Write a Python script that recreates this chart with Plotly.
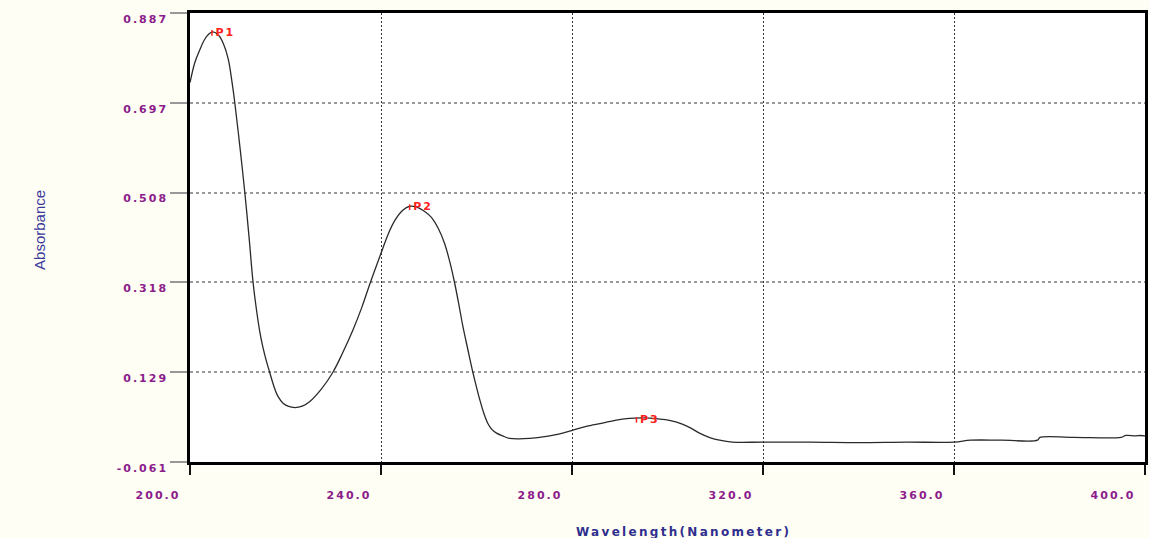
import plotly.graph_objects as go

wavelength = [200.0, 201.0, 202.0, 203.0, 204.0, 204.8, 206.0, 207.0, 208.0, 208.8,
              209.4, 210.5, 211.5, 212.4, 213.2, 213.9, 214.6, 215.3, 216.0, 216.7,
              217.5, 218.4, 219.5, 220.5, 222.0, 223.5, 225.1, 227.5, 229.9, 232.0,
              234.1, 236.0, 237.7, 240.2, 241.5, 242.9, 244.5, 246.0, 247.5, 249.0,
              250.6, 252.0, 253.3, 254.4, 255.4, 256.3, 257.1, 258.2, 259.2, 260.0,
              260.7, 261.5, 262.3, 263.2, 264.2, 265.5, 266.9, 269.0, 271.1, 273.2,
              277.2, 280.1, 283.0, 286.4, 289.0, 292.0, 295.0, 298.0, 300.4, 303.1,
              305.0, 306.7, 309.0, 310.9, 313.6, 320.0, 330.0, 340.0, 350.0, 360.0,
              363.5, 370.0, 377.5, 378.0, 385.0, 395.0, 396.0, 398.0, 399.0, 400.0]
absorbance = [0.740, 0.782, 0.808, 0.830, 0.843, 0.847, 0.840, 0.822, 0.790, 0.741,
              0.696, 0.600, 0.506, 0.410, 0.319, 0.262, 0.215, 0.180, 0.152, 0.128,
              0.101, 0.078, 0.063, 0.057, 0.054, 0.057, 0.067, 0.093, 0.128, 0.170,
              0.217, 0.266, 0.316, 0.385, 0.420, 0.449, 0.470, 0.479, 0.477, 0.469,
              0.455, 0.432, 0.401, 0.362, 0.318, 0.272, 0.228, 0.176, 0.130, 0.097,
              0.070, 0.043, 0.022, 0.008, 0.000, -0.006, -0.011, -0.012, -0.011, -0.009,
              -0.002, 0.006, 0.014, 0.021, 0.027, 0.031, 0.032, 0.030, 0.027, 0.019,
              0.010, 0.000, -0.010, -0.015, -0.019, -0.019, -0.019, -0.020, -0.019, -0.019,
              -0.015, -0.015, -0.015, -0.009, -0.009, -0.009, -0.005, -0.006, -0.005, -0.006]

peak_names = ["P1", "P2", "P3"]
peak_wavelength = [204.6, 246.0, 293.5]
peak_absorbance = [0.845, 0.477, 0.028]

x_ticks = [200.0, 240.0, 280.0, 320.0, 360.0, 400.0]
x_ticktext = ["200.0", "240.0", "280.0", "320.0", "360.0", "400.0"]
y_ticks = [-0.061, 0.129, 0.318, 0.508, 0.697, 0.887]
y_ticktext = ["-0.061", "0.129", "0.318", "0.508", "0.697", "0.887"]

def spaced(s, ls):
    return '<span style="letter-spacing:%spx">%s</span>' % (ls, s)

fig = go.Figure()
fig.add_trace(go.Scatter(
    x=wavelength, y=absorbance, mode="lines",
    line=dict(color="#2a2a2a", width=1.3, shape="spline", smoothing=1.0),
    hoverinfo="x+y", showlegend=False,
))
fig.add_trace(go.Scatter(
    x=peak_wavelength, y=peak_absorbance, mode="markers+text",
    text=[spaced(p, 2) for p in peak_names], textposition="middle right",
    textfont=dict(family="DejaVu Sans", size=11, color="#ff2020", weight="bold"),
    marker=dict(symbol="line-ns", size=4, line=dict(color="#ff2020", width=1.5)),
    showlegend=False, hoverinfo="skip",
))

tickfont = dict(family="DejaVu Sans", size=11, color="#8b1c8b", weight="bold")

fig.update_layout(
    width=1149, height=538,
    margin=dict(l=190, r=1, t=13, b=76),
    paper_bgcolor="#fffef4", plot_bgcolor="#ffffff",
    xaxis=dict(
        range=[200, 400], tickvals=x_ticks,
        ticktext=[spaced(t, 2) for t in x_ticktext],
        tickfont=tickfont, ticks="outside", ticklen=10, tickwidth=1.5, tickcolor="#111",
        ticklabelshift=-32, ticklabelstandoff=11,
        showgrid=True, gridcolor="#333", griddash="2px,2px", gridwidth=1,
        showline=True, linecolor="#000", linewidth=2.5, mirror=True,
        zeroline=False, fixedrange=True,
    ),
    yaxis=dict(
        range=[-0.061, 0.887], tickvals=y_ticks,
        ticktext=[spaced(t, 2) for t in y_ticktext],
        tickfont=tickfont, ticks="outside", ticklen=17, tickwidth=2, tickcolor="#999",
        ticklabelshift=6, ticklabelstandoff=0,
        showgrid=True, gridcolor="#999", griddash="3px,3px", gridwidth=1.5,
        showline=True, linecolor="#000", linewidth=2.5, mirror=True,
        zeroline=False, fixedrange=True,
    ),
    annotations=[
        dict(text="Absorbance", xref="paper", yref="paper", x=-0.157, y=0.517,
             textangle=-90, showarrow=False, xanchor="center", yanchor="middle",
             font=dict(family="Liberation Sans", size=15, color="#3a3a9a")),
        dict(text=spaced("Wavelength(Nanometer)", 2.3), xref="paper", yref="paper",
             x=0.517, y=-0.156, showarrow=False, xanchor="center", yanchor="middle",
             font=dict(family="DejaVu Sans", size=12, color="#2e2e8e", weight="bold")),
    ],
)

fig.write_html("out.html")
